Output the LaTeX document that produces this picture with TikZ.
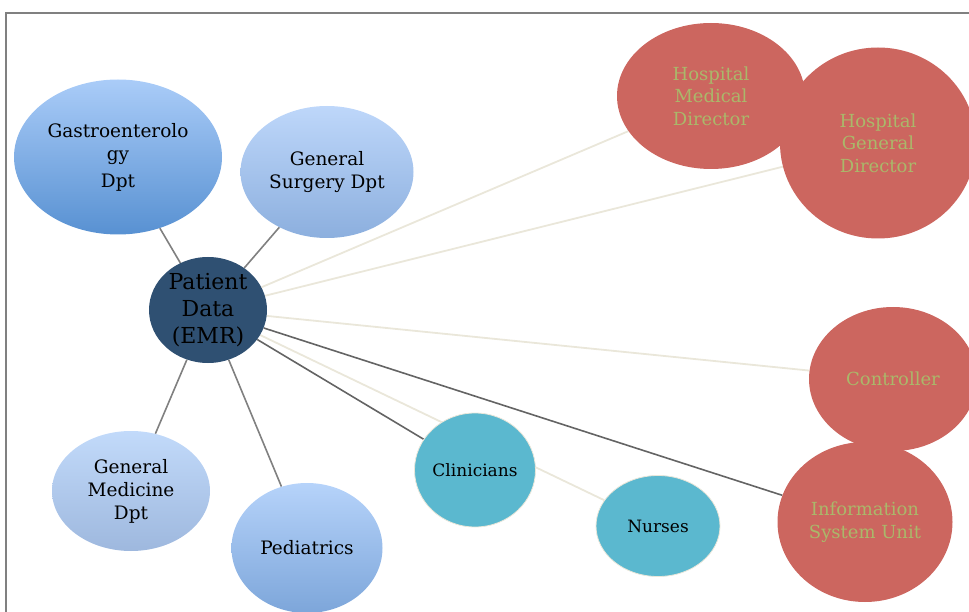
\documentclass[tikz,border=0pt]{standalone}
\usepackage{fontspec}
\setmainfont{DejaVu Serif}
\usetikzlibrary{shapes.geometric}
\usetikzlibrary{backgrounds}
\definecolor{navy-a}{RGB}{47,80,114}
\definecolor{teal-a}{RGB}{91,184,207}
\definecolor{red-a}{RGB}{204,102,95}
\definecolor{olive-a}{RGB}{170,184,106}
\definecolor{beige-a}{RGB}{234,231,218}
\definecolor{gray-a}{RGB}{128,128,128}
\definecolor{gray-b}{RGB}{100,100,100}
\definecolor{blue-a}{RGB}{170,204,248}
\definecolor{blue-b}{RGB}{88,145,210}
\definecolor{blue-c}{RGB}{190,215,250}
\definecolor{blue-d}{RGB}{140,175,222}
\definecolor{blue-e}{RGB}{194,218,250}
\definecolor{blue-f}{RGB}{158,184,222}
\definecolor{blue-g}{RGB}{182,211,250}
\definecolor{blue-h}{RGB}{125,166,218}

\begin{document}
\begin{tikzpicture}
[
x=1pt, y=-1pt,
dept-a/.style={ellipse,inner sep=0pt,align=center,text=black,font=\fontsize{18.5}{23}\selectfont},
core-a/.style={ellipse,inner sep=0pt,align=center,fill=navy-a,text=black,font=\fontsize{22}{27}\selectfont},
staff-a/.style={ellipse,inner sep=0pt,fill=teal-a,draw=beige-a,line width=0.8pt,text=black,font=\fontsize{17}{20}\selectfont},
admin-a/.style={ellipse,inner sep=0pt,align=center,fill=red-a,text=olive-a,font=\fontsize{18}{22.5}\selectfont},
link-a/.style={gray-a,line width=1.6pt},
link-b/.style={gray-b,line width=1.6pt},
link-c/.style={beige-a,line width=1.8pt},
]
\useasboundingbox (0,0) rectangle (969,612);
\draw [gray-a, line width=1.5pt] (6,612) -- (6,13) -- (969,13);

% centre
\node (pd)  [core-a, minimum width=118pt, minimum height=106pt] at (208,310) {Patient\\Data\\(EMR)};

% departments
\node (gas) [dept-a, minimum width=208pt, minimum height=155pt, top color=blue-a, bottom color=blue-b] at (118,157) {Gastroenterolo\\gy\\[4pt]Dpt};
\node (sur) [dept-a, minimum width=173pt, minimum height=132pt, top color=blue-c, bottom color=blue-d] at (327,172) {General\\Surgery Dpt};
\node (med) [dept-a, minimum width=158pt, minimum height=120pt, top color=blue-e, bottom color=blue-f] at (131,491) {General\\Medicine\\Dpt};
\node (ped) [dept-a, minimum width=151pt, minimum height=130pt, top color=blue-g, bottom color=blue-h] at (307,548) {Pediatrics};

% staff
\node (cli) [staff-a, minimum width=121pt, minimum height=114pt] at (475,470) {Clinicians};
\node (nur) [staff-a, minimum width=124pt, minimum height=101pt] at (658,526) {Nurses};

% administration
\node (hmd) [admin-a, minimum width=188pt, minimum height=146pt] at (711,96)  {Hospital\\Medical\\Director};
\node (hgd) [admin-a, minimum width=196pt, minimum height=191pt] at (878,143) {Hospital\\General\\Director};
\node (con) [admin-a, minimum width=168pt, minimum height=144pt] at (893,379) {Controller};
\node (isu) [admin-a, minimum width=175pt, minimum height=160pt] at (865,522) {Information\\System Unit};

\begin{scope}[on background layer]
\draw [link-a] (pd) -- (gas);
\draw [link-a] (pd) -- (sur);
\draw [link-a] (pd) -- (med);
\draw [link-a] (pd) -- (ped);
\draw [link-c] (pd) -- (hmd);
\draw [link-c] (pd) -- (hgd);
\draw [link-c] (pd) -- (con);
\draw [link-c] (pd) -- (nur);
\draw [link-b] (pd) -- (cli);
\draw [link-b] (pd) -- (isu);
\end{scope}
\end{tikzpicture}
\end{document}
